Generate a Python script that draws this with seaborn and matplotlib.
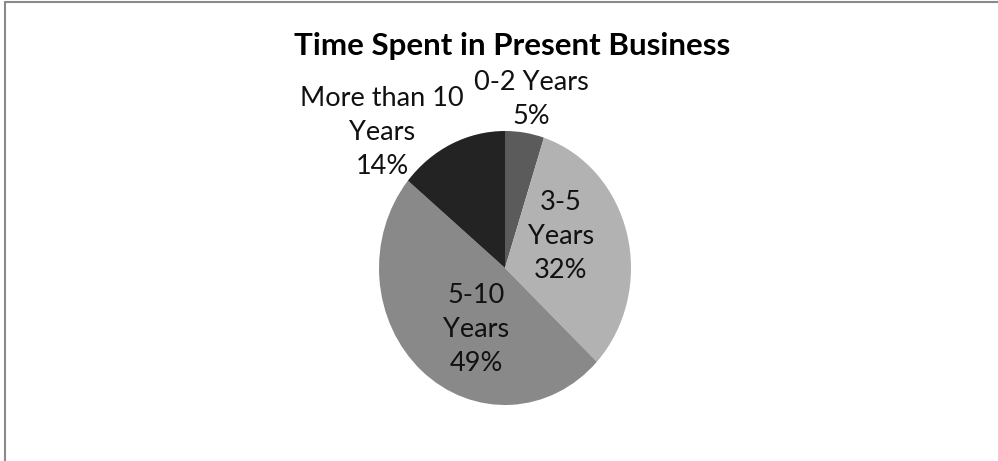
import matplotlib
matplotlib.use("Agg")
import matplotlib.pyplot as plt
import seaborn as sns
from matplotlib.lines import Line2D

sns.set_theme(style="white")
plt.rcParams["font.family"] = ["Lato", "DejaVu Sans"]

# Share of respondents by time spent in present business
categories = ["0-2 Years", "3-5 Years", "5-10 Years", "More than 10\nYears"]
shares = [5, 32, 49, 14]
slice_colors = ["#5b5b5b", "#b2b2b2", "#898989", "#232323"]
label_texts = ["0-2 Years\n5%", "3-5\nYears\n32%", "5-10\nYears\n49%",
               "More than 10\nYears\n14%"]

W, H = 998, 461
fig = plt.figure(figsize=(W / 100, H / 100), dpi=100)
fig.patch.set_facecolor("white")

# Pie centre and radii in pixels (slightly taller than wide)
cx, cy, rx, ry = 505, 268, 126, 137
ax = fig.add_axes([0, 0, 1, 1])
ax.pie(shares, colors=slice_colors, startangle=90, counterclock=False,
       wedgeprops=dict(linewidth=0), radius=1.0, center=(0, 0))
ax.set_aspect("auto")
ax.set_xlim((0 - cx) / rx, (W - cx) / rx)
ax.set_ylim((cy - H) / ry, cy / ry)
ax.axis("off")


def px(x, y):
    return (x - cx) / rx, (cy - y) / ry


# Data labels (pixel-space anchor per slice)
label_pos = [(531, 100), (561, 236), (476, 329), (382, 132)]
for txt, (lx, ly) in zip(label_texts, label_pos):
    ax.text(*px(lx, ly), txt, ha="center", va="center", fontsize=19.5,
            color="#111111", linespacing=1.45)

fig.text(512 / W, 1 - 46 / H, "Time Spent in Present Business",
         ha="center", va="center", fontsize=22.5, fontweight="bold",
         color="black")

# Outer frame lines (left and top)
fig.add_artist(Line2D([4.5 / W, 4.5 / W], [0, 1 - 2.5 / H],
                      transform=fig.transFigure, color="#8a8a8a", lw=1.5))
fig.add_artist(Line2D([4.5 / W, 1], [1 - 2.5 / H, 1 - 2.5 / H],
                      transform=fig.transFigure, color="#8a8a8a", lw=1.5))

fig.savefig("out.png", dpi=100, facecolor="white")
